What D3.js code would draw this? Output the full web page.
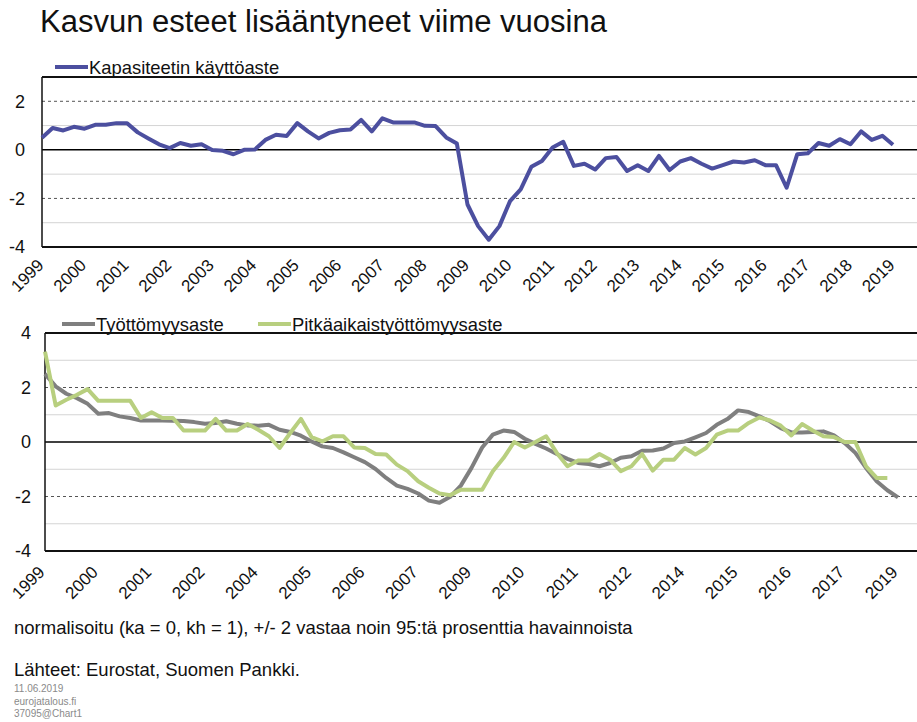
<!DOCTYPE html>
<html>
<head>
<meta charset="utf-8">
<script src="https://cdn.jsdelivr.net/npm/d3@7"></script>
<style>
  body { margin: 0; background: #fff; }
  svg { display: block; font-family: "Liberation Sans", Arial, sans-serif; }
</style>
</head>
<body>
<script>
// quarterly data 1999Q1 -> 2019Q1
const years = d3.range(1999, 2020);
const quarters = [];
years.forEach(y => [1, 2, 3, 4].forEach(q => quarters.push(y + 'Q' + q)));
quarters.length = 81;

const kapasiteetti = [
  0.5, 0.9, 0.8, 0.95, 0.87, 1.03, 1.03, 1.1, 1.1,
  0.72, 0.47, 0.23, 0.07, 0.28, 0.17, 0.23,
  -0.01, -0.04, -0.18, 0.0, 0.01, 0.41, 0.62, 0.57,
  1.1, 0.76, 0.47, 0.7, 0.81, 0.84, 1.23, 0.76,
  1.3, 1.13, 1.13, 1.13, 0.99, 0.98, 0.51, 0.26,
  -2.25, -3.14, -3.7, -3.14, -2.11, -1.63, -0.7, -0.46,
  0.1, 0.33, -0.66, -0.57, -0.81, -0.34, -0.29, -0.87,
  -0.63, -0.87, -0.25, -0.83, -0.48, -0.34, -0.57, -0.77,
  -0.63, -0.48, -0.52, -0.43, -0.63, -0.63, -1.56, -0.18,
  -0.14, 0.28, 0.17, 0.44, 0.23, 0.76, 0.41, 0.58, 0.21
];

const tyottomyys = [
  2.5, 2.04, 1.77, 1.61, 1.4, 1.04, 1.06, 0.94, 0.88, 0.79,
  0.79, 0.79, 0.78, 0.77, 0.73, 0.67, 0.7, 0.76, 0.67, 0.61,
  0.6, 0.63, 0.45, 0.37, 0.23, 0.02, -0.16, -0.22, -0.38, -0.56,
  -0.74, -0.99, -1.32, -1.6, -1.72, -1.89, -2.15, -2.23, -2.01, -1.6,
  -0.95, -0.2, 0.27, 0.42, 0.37, 0.12, -0.07, -0.24, -0.44, -0.62,
  -0.77, -0.81, -0.89, -0.77, -0.58, -0.52, -0.32, -0.31, -0.24, -0.04,
  0.02, 0.17, 0.33, 0.63, 0.84, 1.16, 1.1, 0.94, 0.76, 0.51,
  0.35, 0.35, 0.37, 0.39, 0.24, -0.04, -0.4, -0.95, -1.44, -1.77,
  -2.03
];

const pitkaaikais = [
  3.32, 1.34, 1.55, 1.73, 1.94, 1.51, 1.51, 1.51, 1.51, 0.88,
  1.09, 0.88, 0.88, 0.42, 0.42, 0.42, 0.85, 0.42, 0.42, 0.66,
  0.45, 0.21, -0.22, 0.33, 0.85, 0.18, 0.02, 0.21, 0.21, -0.2,
  -0.22, -0.44, -0.46, -0.83, -1.07, -1.44, -1.68, -1.89, -1.95, -1.75,
  -1.75, -1.75, -1.07, -0.59, 0.0, -0.2, 0.0, 0.21, -0.4, -0.89,
  -0.68, -0.68, -0.44, -0.65, -1.07, -0.89, -0.44, -1.05, -0.65, -0.65,
  -0.22, -0.46, -0.22, 0.27, 0.42, 0.42, 0.7, 0.9, 0.79, 0.6,
  0.24, 0.66, 0.42, 0.21, 0.18, 0.0, 0.0, -0.89, -1.32, -1.32
];

const topTicks = [-4, -2, 0, 2];
const bottomTicks = [-4, -2, 0, 2, 4];

const w = 917;
const h = 722;
const font = '"Liberation Sans", Arial, sans-serif';

const svg = d3.select('body').append('svg')
  .attr('width', w)
  .attr('height', h);

svg.append('text')
  .attr('x', 40)
  .attr('y', 32)
  .attr('font-size', 31)
  .attr('fill', '#111')
  .text('Kasvun esteet lisääntyneet viime vuosina');

function gridStyle(sel) {
  sel.attr('stroke', d => d === 0 ? '#000' : (Math.abs(d) === 2 ? '#555' : '#d4d4d4'))
    .attr('stroke-width', d => d === 0 ? 1.5 : 1)
    .attr('stroke-dasharray', d => Math.abs(d) === 2 ? '3,3' : null);
}

function panel(opt) {
  const x = d3.scalePoint().domain(quarters).range([opt.x0, opt.x1]);
  const y = d3.scaleLinear().domain(opt.domain).range([opt.bottom, opt.top]);
  const g = svg.append('g');

  g.selectAll('line.grid')
    .data(opt.grid)
    .enter()
    .append('line')
    .attr('class', 'grid')
    .attr('x1', opt.left)
    .attr('x2', w)
    .attr('y1', d => y(d))
    .attr('y2', d => y(d))
    .call(gridStyle);

  // frame
  g.append('line').attr('x1', opt.left).attr('x2', w).attr('y1', opt.top).attr('y2', opt.top)
    .attr('stroke', '#111').attr('stroke-width', 2);
  g.append('line').attr('x1', opt.left).attr('x2', w).attr('y1', opt.bottom).attr('y2', opt.bottom)
    .attr('stroke', '#111').attr('stroke-width', 2);
  g.append('line').attr('x1', opt.left).attr('x2', opt.left).attr('y1', opt.top).attr('y2', opt.bottom)
    .attr('stroke', '#111').attr('stroke-width', 1.5);

  const yAxis = g.append('g')
    .attr('transform', `translate(${opt.labelRight},0)`)
    .call(d3.axisLeft(y).tickValues(opt.ticks).tickSize(0).tickPadding(0)
      .tickFormat(d => String(d)));
  yAxis.select('.domain').remove();
  yAxis.selectAll('text').attr('font-size', 18).attr('fill', '#111').style('font-family', font);

  const xAxis = g.append('g')
    .attr('transform', `translate(0,${opt.bottom})`)
    .call(d3.axisBottom(x).tickValues(quarters.filter((q, i) => i % opt.every === 0)).tickSize(0)
      .tickFormat(q => q.slice(0, 4)));
  xAxis.select('.domain').remove();
  xAxis.selectAll('text')
    .attr('x', 0)
    .attr('y', 0)
    .attr('dy', '0.35em')
    .attr('text-anchor', 'end')
    .attr('transform', `translate(${opt.lx},${opt.ly}) rotate(-45)`)
    .attr('font-size', 17)
    .attr('fill', '#111')
    .style('font-family', font);

  opt.series.forEach(s => {
    g.append('path')
      .datum(s.values)
      .attr('fill', 'none')
      .attr('stroke', s.color)
      .attr('stroke-width', 4)
      .attr('stroke-linejoin', 'round')
      .attr('d', d3.line().x((d, i) => x(quarters[i])).y(d => y(d)));
  });

  opt.legend.forEach(l => {
    g.append('line')
      .attr('x1', l.x).attr('x2', l.x + 33)
      .attr('y1', l.y).attr('y2', l.y)
      .attr('stroke', l.color).attr('stroke-width', 4);
    g.append('text')
      .attr('x', l.x + 34)
      .attr('y', l.y + 7)
      .attr('font-size', 18.4)
      .attr('fill', '#111')
      .text(l.label);
  });
}

panel({
  left: 42, x0: 42, x1: 893, top: 77, bottom: 247, domain: [-4, 3],
  grid: [-3, -2, -1, 1, 2, 0], ticks: topTicks, labelRight: 25,
  every: 4, lx: -2, ly: 15,
  series: [{ values: kapasiteetti, color: '#4c4f9f' }],
  legend: [{ x: 55, y: 67, color: '#4c4f9f', label: 'Kapasiteetin käyttöaste' }]
});

panel({
  left: 45, x0: 45, x1: 898, top: 333, bottom: 551, domain: [-4, 4],
  grid: [-3, -2, -1, 1, 2, 3, 0], ticks: bottomTicks, labelRight: 31,
  every: 5, lx: -4, ly: 18,
  series: [
    { values: tyottomyys, color: '#7f7f7f' },
    { values: pitkaaikais, color: '#b8cf7f' }
  ],
  legend: [
    { x: 62, y: 324, color: '#7f7f7f', label: 'Työttömyysaste' },
    { x: 258, y: 324, color: '#b8cf7f', label: 'Pitkäaikaistyöttömyysaste' }
  ]
});

svg.append('text')
  .attr('x', 14).attr('y', 634)
  .attr('font-size', 18.5).attr('fill', '#111')
  .text('normalisoitu (ka = 0, kh = 1), +/- 2 vastaa noin 95:tä prosenttia havainnoista');

svg.append('text')
  .attr('x', 14).attr('y', 676)
  .attr('font-size', 18.5).attr('fill', '#111')
  .text('Lähteet: Eurostat, Suomen Pankki.');

const small = ['11.06.2019', 'eurojatalous.fi', '37095@Chart1'];
svg.selectAll('text.small')
  .data(small)
  .enter()
  .append('text')
  .attr('class', 'small')
  .attr('x', 14)
  .attr('y', (d, i) => 692 + i * 12.5)
  .attr('font-size', 10)
  .attr('fill', '#8a8a8a')
  .text(d => d);
</script>
</body>
</html>
